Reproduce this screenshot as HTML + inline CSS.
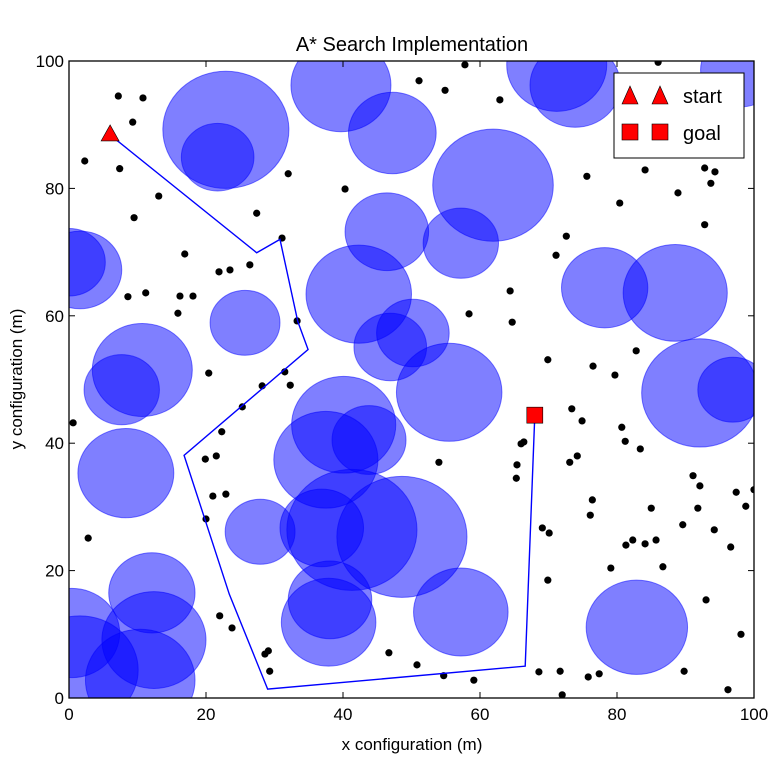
<!DOCTYPE html>
<html><head><meta charset="utf-8"><style>body{margin:0;background:#fff}svg{display:block;font-family:"Liberation Sans",sans-serif}</style></head>
<body>
<svg id="chart" width="776" height="776" xmlns="http://www.w3.org/2000/svg"></svg>
<script>
const circles=[[22.9,89.2,9.2],[21.7,84.9,5.3],[39.7,96.2,7.3],[47.2,88.7,6.4],[71.2,99.4,7.3],[73.9,96.2,6.6],[98,98.6,5.8],[61.9,80.5,8.8],[46.4,73.2,6.1],[57.2,71.4,5.5],[42.3,63.4,7.7],[46.9,55.1,5.3],[50.2,57.3,5.3],[55.5,48.0,7.7],[78.2,64.4,6.3],[88.5,63.6,7.6],[92.1,47.9,8.5],[96.9,48.4,5.1],[1.6,67.2,6.1],[0,68.4,5.3],[25.7,58.9,5.1],[10.7,51.5,7.3],[7.7,48.4,5.5],[8.3,35.3,7.0],[40.1,42.9,7.6],[43.8,40.5,5.4],[37.5,37.4,7.6],[41.3,26.4,9.5],[48.6,25.3,9.5],[36.9,26.7,6.1],[27.9,26.1,5.1],[38.1,15.4,6.1],[37.9,11.9,6.9],[57.2,13.5,6.9],[82.9,11.1,7.4],[12.1,16.5,6.3],[12.4,9.1,7.6],[0.4,10.2,7.0],[1.6,4.4,8.5],[10.4,2.8,8.0]];
const pathX=[6.0,27.4,30.8,33.4,34.9,16.8,23.4,29.0,66.6,68.0];
const pathY=[88.4,69.9,72.0,59.1,54.7,38.1,16.3,1.4,5.0,44.4];
const dotsX=[7.2,10.8,9.3,2.3,7.4,13.1,32.0,9.5,16.9,27.4,31.1,21.9,23.5,26.4,11.2,8.6,16.2,18.1,15.9,33.3,20.4,31.5,28.2,32.3,25.3,22.3,21.5,19.9,21.0,22.9,20.0,2.8,22.0,23.8,28.6,29.1,29.3,51.1,57.8,54.9,62.9,75.6,80.4,40.3,64.4,64.7,58.4,69.9,71.1,72.6,0.6,54.0,76.5,79.7,82.8,86.0,84.1,92.8,94.3,93.7,88.9,92.8,73.4,74.9,74.2,73.1,80.7,81.2,83.4,76.4,76.1,65.4,65.3,66.0,66.4,69.1,70.1,69.9,79.1,81.3,82.3,84.1,85.0,85.7,86.7,89.6,91.1,91.8,92.1,94.2,96.6,97.4,98.8,100,93.0,98.1,89.8,96.2,77.4,71.7,68.6,75.8,50.8,54.7,46.7,59.1,72.0];
const dotsY=[94.5,94.2,90.4,84.3,83.1,78.8,82.3,75.4,69.7,76.1,72.2,66.9,67.2,68.0,63.6,63.0,63.1,63.1,60.4,59.2,51.0,51.2,49.0,49.1,45.7,41.8,38.0,37.5,31.7,32.0,28.1,25.1,12.9,11.0,6.9,7.4,4.2,96.9,99.4,95.4,93.9,81.9,77.7,79.9,63.9,59.0,60.3,53.1,69.5,72.5,43.2,37.0,52.1,50.7,54.5,99.8,82.9,83.2,82.6,80.8,79.3,74.3,45.4,43.5,38.0,37.0,42.5,40.3,39.1,31.1,28.7,36.6,34.5,39.9,40.2,26.7,25.9,18.5,20.4,24.0,24.8,24.2,29.8,24.8,20.6,27.2,34.9,29.8,33.3,26.4,23.7,32.3,30.1,32.7,15.4,10.0,4.2,1.3,3.8,4.2,4.1,3.3,5.2,3.5,7.1,2.8,0.5];
const startPt=[6.0,88.4], goalPt=[68.0,44.4];
const xTicks=[0,20,40,60,80,100], yTicks=[0,20,40,60,80,100];
const L=69,R=754,T=61,B=698;
const sx=v=>L+(v/100)*(R-L), sy=v=>B-(v/100)*(B-T);
const NS="http://www.w3.org/2000/svg", svg=document.getElementById('chart');
function mk(tag,attrs,parent){const e=document.createElementNS(NS,tag);for(const k in attrs)e.setAttribute(k,attrs[k]);(parent||svg).appendChild(e);return e;}
const defs=mk('defs',{});const cp=mk('clipPath',{id:'clip'},defs);mk('rect',{x:L,y:T,width:R-L,height:B-T},cp);
const g=mk('g',{'clip-path':'url(#clip)'});


circles.forEach(c=>{const e=mk('ellipse',{cx:sx(c[0]),cy:sy(c[1]),rx:c[2]/100*(R-L),ry:c[2]/100*(B-T),fill:'rgba(0,0,255,0.5)',stroke:'rgba(0,0,255,0.5)','stroke-width':1},g);

});
dotsX.forEach((x,i)=>{const e=mk('circle',{cx:sx(x),cy:sy(dotsY[i]),r:3.6,fill:'#000'},g);

});
const pl=mk('polyline',{points:pathX.map((x,i)=>sx(x)+','+sy(pathY[i])).join(' '),fill:'none',stroke:'#0000ff','stroke-width':1.4},g);


function tri(x,y,s,p){const e=mk('polygon',{points:`${x},${y-s} ${x-s*0.9},${y+s*0.6} ${x+s*0.9},${y+s*0.6}`,fill:'#ff0000',stroke:'#000','stroke-width':0.6},p);return e;}
const st=tri(sx(startPt[0]),sy(startPt[1]),10,svg);


const gm=mk('rect',{x:sx(goalPt[0])-8,y:sy(goalPt[1])-8,width:16,height:16,fill:'#ff0000',stroke:'#000','stroke-width':0.6});


const fr=mk('rect',{x:L,y:T,width:R-L,height:B-T,fill:'none',stroke:'#000','stroke-width':1.3});


xTicks.forEach(v=>{const x=sx(v);mk('line',{x1:x,x2:x,y1:B,y2:B-6,stroke:'#000'});mk('line',{x1:x,x2:x,y1:T,y2:T+6,stroke:'#000'});
const t=mk('text',{x:x,y:B+22,'text-anchor':'middle','font-size':17});t.textContent=v;

});
yTicks.forEach(v=>{const y=sy(v);mk('line',{x1:L,x2:L+6,y1:y,y2:y,stroke:'#000'});mk('line',{x1:R,x2:R-6,y1:y,y2:y,stroke:'#000'});
const t=mk('text',{x:L-5,y:y+6,'text-anchor':'end','font-size':17});t.textContent=v;

});
</script>
<svg style="position:absolute;left:0;top:0" width="776" height="776">
<text x="412" y="51" text-anchor="middle" font-size="20" font-family="Liberation Sans, sans-serif">A* Search Implementation</text>
<text x="412" y="750" text-anchor="middle" font-size="17" font-family="Liberation Sans, sans-serif">x configuration (m)</text>
<text transform="translate(22,379) rotate(-90)" text-anchor="middle" font-size="17" font-family="Liberation Sans, sans-serif">y configuration (m)</text>
<g font-family="Liberation Sans, sans-serif" font-size="20">
<rect x="614" y="73" width="130" height="85" fill="#fff" stroke="#000" stroke-width="1"/>
<polygon points="630,86 622,104 638,104" fill="#f00" stroke="#000" stroke-width="0.6"/>
<polygon points="660,86 652,104 668,104" fill="#f00" stroke="#000" stroke-width="0.6"/>
<text x="683" y="103">start</text>
<rect x="622" y="124" width="16" height="16" fill="#f00" stroke="#000" stroke-width="0.6"/>
<rect x="652" y="124" width="16" height="16" fill="#f00" stroke="#000" stroke-width="0.6"/>
<text x="683" y="140">goal</text>
</g>
</svg>
</body></html>
